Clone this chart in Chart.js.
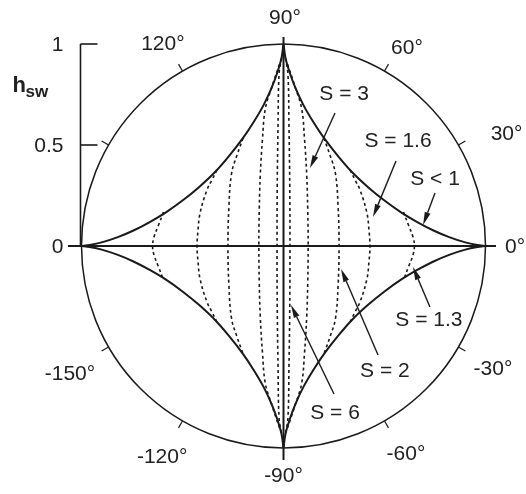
<!DOCTYPE html>
<html>
<head>
<meta charset="utf-8">
<script src="https://cdn.jsdelivr.net/npm/chart.js@4/dist/chart.umd.min.js"></script>
<style>
html,body{margin:0;padding:0;background:#fff;}
#c{display:block;}
</style>
</head>
<body>
<canvas id="c" width="526" height="494"></canvas>
<script>
// ---- data (first quadrant, normalised h_sw units) ----
// outer curve (S < 1), from the 90° cusp to the 0° cusp
const astroidX = [0, 0.01, 0.03, 0.06, 0.1, 0.15, 0.2, 0.27, 0.34, 0.42, 0.5, 0.58, 0.66, 0.74, 0.82, 0.9, 0.96, 1];
const astroidY = [1, 0.93, 0.86, 0.78, 0.695, 0.61, 0.535, 0.445, 0.365, 0.29, 0.225, 0.168, 0.12, 0.078, 0.044, 0.018, 0.005, 0];
// dashed curves, from where they leave the outer curve down to the 0° axis
const s13X = [0.594, 0.62, 0.641, 0.648];
const s13Y = [0.168, 0.1, 0.045, 0];
const s16X = [0.33, 0.354, 0.379, 0.413, 0.423, 0.428];
const s16Y = [0.376, 0.327, 0.277, 0.163, 0.079, 0];
const s2X = [0.2, 0.23, 0.257, 0.27, 0.275];
const s2Y = [0.535, 0.45, 0.36, 0.2, 0];
const s3X = [0.02, 0.06, 0.09, 0.104, 0.115, 0.12, 0.122];
const s3Y = [0.9, 0.78, 0.68, 0.53, 0.35, 0.18, 0];
const s6X = [0.01, 0.022, 0.027, 0.031, 0.032];
const s6Y = [0.93, 0.85, 0.6, 0.3, 0];

const yTicks = [0, 0.5, 1];
const yTickLabels = ['0', '0.5', '1'];
const angleTicks = [30, 60, 120, 150, -30, -60, -120, -150];
const angleLabels = ['90°', '60°', '30°', '0°', '120°', '-150°', '-120°', '-90°', '-60°', '-30°'];
const angleLabelPos = [[0.007, 1.134], [0.611, 0.985], [1.104, 0.559], [1.146, -0.003], [-0.597, 1.005],
                       [-1.057, -0.629], [-0.601, -1.04], [0, -1.134], [0.606, -1.025], [1.037, -0.604]];
const curveLabels = ['S = 3', 'S = 1.6', 'S < 1', 'S = 1.3', 'S = 2', 'S = 6'];
const curveLabelPos = [[0.3, 0.757], [0.567, 0.525], [0.75, 0.337], [0.72, -0.361], [0.502, -0.614], [0.255, -0.822]];
const arrowFrom = [[0.255, 0.658], [0.557, 0.421], [0.75, 0.262], [0.725, -0.302], [0.468, -0.54], [0.25, -0.733]];
const arrowTo = [[0.131, 0.386], [0.443, 0.144], [0.691, 0.104], [0.641, -0.104], [0.285, -0.114], [0.037, -0.292]];

// ---- build datasets ----
function pts(xs, ys, sx, sy) { return xs.map((x, i) => ({x: sx * x, y: sy * ys[i]})); }
function side(xs, ys, sx) {
  const top = pts(xs, ys, sx, 1);
  const bot = pts(xs, ys, sx, -1).reverse().slice(1);
  return top.concat(bot);
}
const ink = '#1a1a1a';
const datasets = [];
[[1,1],[-1,1],[-1,-1],[1,-1]].forEach(([sx, sy]) => {
  datasets.push({data: pts(astroidX, astroidY, sx, sy), borderColor: ink, borderWidth: 2, tension: 0.3});
});
[[s13X, s13Y], [s16X, s16Y], [s2X, s2Y], [s3X, s3Y], [s6X, s6Y]].forEach(([xs, ys]) => {
  [1, -1].forEach(sx => {
    datasets.push({data: side(xs, ys, sx), borderColor: ink, borderWidth: 1.6, borderDash: [3, 3], tension: 0.4});
  });
});

const font = '21px "Liberation Sans", Arial, sans-serif';

const decor = {
  id: 'decor',
  beforeDatasetsDraw(chart) {
    const ctx = chart.ctx, xs = chart.scales.x, ys = chart.scales.y;
    const px = v => xs.getPixelForValue(v), py = v => ys.getPixelForValue(v);
    const cx = px(0), cy = py(0), r = px(1) - px(0);
    ctx.save();
    ctx.strokeStyle = ink;
    ctx.lineCap = 'butt';
    // circle
    ctx.lineWidth = 1.5;
    ctx.beginPath(); ctx.arc(cx, cy, r, 0, Math.PI * 2); ctx.stroke();
    // angle ticks (outward)
    ctx.lineWidth = 1.2;
    angleTicks.forEach(a => {
      const t = a * Math.PI / 180;
      ctx.beginPath();
      ctx.moveTo(cx + r * Math.cos(t), cy - r * Math.sin(t));
      ctx.lineTo(cx + (r + 8) * Math.cos(t), cy - (r + 8) * Math.sin(t));
      ctx.stroke();
    });
    // main axes
    ctx.lineWidth = 2;
    ctx.beginPath(); ctx.moveTo(px(-1.067), cy); ctx.lineTo(px(1.052), cy); ctx.stroke();
    ctx.beginPath(); ctx.moveTo(cx, py(1.035)); ctx.lineTo(cx, py(-1.059)); ctx.stroke();
    // h_sw axis
    const ax = px(-1.005);
    ctx.lineWidth = 1.6;
    ctx.beginPath(); ctx.moveTo(ax, py(1)); ctx.lineTo(ax, py(0)); ctx.stroke();
    yTicks.forEach(v => {
      if (v === 0) return;
      ctx.beginPath(); ctx.moveTo(ax, py(v)); ctx.lineTo(ax + 17, py(v)); ctx.stroke();
    });
    ctx.restore();
  },
  afterDatasetsDraw(chart) {
    const ctx = chart.ctx, xs = chart.scales.x, ys = chart.scales.y;
    const px = v => xs.getPixelForValue(v), py = v => ys.getPixelForValue(v);
    ctx.save();
    ctx.fillStyle = '#222';
    ctx.strokeStyle = ink;
    ctx.font = font;
    ctx.textBaseline = 'middle';
    // y tick labels
    const ax = px(-1.005);
    ctx.textAlign = 'right';
    yTicks.forEach((v, i) => ctx.fillText(yTickLabels[i], ax - 17, py(v) + 1));
    // axis title h_sw
    ctx.textAlign = 'left';
    ctx.textBaseline = 'alphabetic';
    ctx.font = 'bold 22px "Liberation Sans", Arial, sans-serif';
    ctx.fillText('h', ax - 68, py(0.763));
    ctx.font = 'bold 17px "Liberation Sans", Arial, sans-serif';
    ctx.fillText('sw', ax - 55, py(0.738));
    // angle labels
    ctx.font = font;
    ctx.textAlign = 'center';
    ctx.textBaseline = 'middle';
    angleLabels.forEach((t, i) => ctx.fillText(t, px(angleLabelPos[i][0]), py(angleLabelPos[i][1]) + 1));
    // curve labels
    curveLabels.forEach((t, i) => ctx.fillText(t, px(curveLabelPos[i][0]), py(curveLabelPos[i][1]) + 1));
    // arrows
    ctx.lineWidth = 1.4;
    arrowFrom.forEach((f, i) => {
      const x1 = px(f[0]), y1 = py(f[1]), x2 = px(arrowTo[i][0]), y2 = py(arrowTo[i][1]);
      const ang = Math.atan2(y2 - y1, x2 - x1);
      const L = 13, W = 3;
      const bx = x2 - L * Math.cos(ang), by = y2 - L * Math.sin(ang);
      ctx.beginPath(); ctx.moveTo(x1, y1); ctx.lineTo(bx, by); ctx.stroke();
      ctx.beginPath();
      ctx.moveTo(x2, y2);
      ctx.lineTo(bx + W * Math.sin(ang), by - W * Math.cos(ang));
      ctx.lineTo(bx - W * Math.sin(ang), by + W * Math.cos(ang));
      ctx.closePath();
      ctx.fillStyle = ink;
      ctx.fill();
    });
    ctx.restore();
  }
};

new Chart(document.getElementById('c'), {
  type: 'scatter',
  data: {datasets},
  options: {
    responsive: false,
    devicePixelRatio: 1,
    animation: false,
    showLine: true,
    layout: {padding: {left: 81.5, right: 40.5, top: 44, bottom: 46}},
    elements: {point: {radius: 0, hoverRadius: 0}, line: {fill: false, capBezierPoints: true}},
    plugins: {legend: {display: false}, tooltip: {enabled: false}},
    scales: {
      x: {type: 'linear', min: -1, max: 1, display: false},
      y: {type: 'linear', min: -1, max: 1, display: false}
    }
  },
  plugins: [decor]
});
</script>
</body>
</html>
